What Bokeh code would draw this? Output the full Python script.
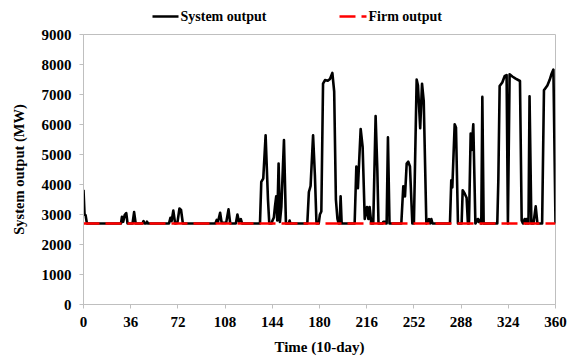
from bokeh.plotting import figure
from bokeh.models import FixedTicker, Range1d, Label
from bokeh.layouts import column
from bokeh.embed import file_html
from bokeh.resources import INLINE

# ---- data ----
time_points = [
    0, 0.8, 1.6, 2.6, 28.6, 29.3, 30.3, 31.4, 32.6, 33.6, 37.4, 38.6, 39.8,
    45.0, 45.8, 46.6, 47.8, 48.4, 49.2, 65.2, 66.3, 67.2, 68.5, 69.9, 71.6,
    73.2, 74.4, 75.8, 100.6, 101.6, 102.6, 104.2, 105.4, 108.8, 110.6, 111.9,
    116.2, 117.4, 118.6, 120.0, 121.0, 134.6, 135.6, 137.1, 138.9, 140.7,
    141.7, 143.4, 144.0, 145.2, 146.0, 147.0, 147.8, 148.8, 149.8, 150.9,
    152.9, 154.4, 156.6, 157.2, 157.8, 170.7, 171.9, 173.2, 175.1, 176.5,
    177.7, 179.4, 180.3, 181.4, 182.7, 184.2, 186.3, 188.0, 189.8, 191.2,
    192.5, 193.7, 194.6, 195.4, 196.1, 196.9, 206.8, 208.1, 209.3, 211.4,
    212.9, 214.5, 216.2, 217.3, 218.2, 219.5, 221.0, 222.8, 224.1, 225.0,
    228.0, 228.8, 230.0, 230.8, 231.2, 232.2, 233.4, 242.4, 243.9, 245.2,
    246.5, 247.7, 249.0, 250.8, 252.0, 254.1, 255.1, 256.8, 258.2, 259.5,
    261.5, 263.5, 264.4, 265.3, 266.2, 279.5, 280.5, 281.3, 283.1, 284.1,
    285.6, 288.4, 289.2, 290.7, 292.2, 293.2, 294.0, 295.3, 296.0, 297.3,
    298.9, 300.8, 301.6, 302.4, 303.4, 304.2, 305.2, 315.6, 316.4, 317.4,
    319.4, 321.2, 322.7, 323.7, 325.0, 327.1, 329.6, 332.9, 334.2, 335.2,
    336.5, 337.3, 338.0, 338.8, 339.4, 340.2, 341.6, 343.2, 344.9, 346.2,
    349.8, 351.2, 353.8, 355.5, 357.1, 358.4, 360.0,
]
system_output = [
    3820, 3000, 2980, 2700, 2700, 2920, 2760, 2980, 3050, 2700, 2700, 3080, 2700,
    2700, 2780, 2700, 2700, 2760, 2700, 2700, 2890, 2780, 3130, 2700, 2720,
    3200, 3150, 2700, 2700, 2820, 2760, 3060, 2720, 2720, 3170, 2700,
    2700, 3000, 2760, 2850, 2700, 2700, 4090, 4200, 5640, 3500,
    2700, 2700, 2780, 2900, 3250, 3610, 2800, 4700, 2750, 3250,
    5480, 2700, 2700, 2800, 2700, 2700, 3750, 3950, 5640, 4300,
    2700, 2700, 3000, 3100, 7360, 7480, 7460, 7520, 7720, 7100,
    3500, 2850, 2700, 2700, 3610, 2700, 2700, 4600, 3880, 5850,
    5250, 2850, 3250, 2850, 3250, 2700, 2700, 6280, 4500, 2700,
    2700, 2760, 2760, 2700, 2700, 5570, 2700, 2700, 3940, 3600,
    4700, 4760, 4600, 2700, 2700, 7500, 7300, 5880, 7360, 6780,
    2700, 2850, 2700, 2850, 2700, 2700, 4140, 3900, 6010, 5900,
    2700, 2700, 3810, 3700, 3560, 2700, 2700, 5700, 5150, 6010,
    2700, 2850, 2750, 2820, 2700, 6920, 2700, 2700, 4150, 7280,
    7400, 7610, 7650, 2700, 7670, 7600, 7530, 7450, 2800, 2700,
    2850, 2700, 2850, 2700, 2700, 6940, 2700, 2700, 3270, 2700,
    2700, 7140, 7300, 7480, 7700, 7830, 2700,
]
firm_time = [0, 360]
firm_output = [2700, 2700]
series_names = ["System output", "Firm output"]
x_ticks = [0, 36, 72, 108, 144, 180, 216, 252, 288, 324, 360]
y_ticks = [0, 1000, 2000, 3000, 4000, 5000, 6000, 7000, 8000, 9000]

FONT = "Liberation Serif"
GRAY = "#bfbfbf"
SYS_COLOR = "black"
FIRM_COLOR = "#ff0000"
FIRM_DASH = "16 6"
LW = 2.6
LEFT, RIGHT = 83, 12

# ---- legend strip (x in canvas pixels) ----
leg = figure(width=567, height=24, output_backend="svg", toolbar_location=None,
             x_range=Range1d(LEFT, 567 - RIGHT), y_range=Range1d(0, 24),
             x_axis_type=None, y_axis_type=None,
             min_border_left=LEFT, min_border_right=RIGHT,
             min_border_top=0, min_border_bottom=0)
leg.outline_line_color = None
leg.xgrid.visible = False
leg.ygrid.visible = False
leg.background_fill_color = "white"
leg.border_fill_color = "white"
leg.line([152, 178], [8, 8], line_color=SYS_COLOR, line_width=LW)
leg.line([339, 366], [8, 8], line_color=FIRM_COLOR, line_width=LW,
         line_dash=FIRM_DASH)
for lx, name in zip([180, 368], series_names):
    leg.add_layout(Label(x=lx, y=8, text=name, text_baseline="middle",
                         text_align="left", text_font=FONT,
                         text_font_style="bold", text_font_size="14px",
                         text_color="black"))

# ---- main chart ----
p = figure(width=567, height=334, output_backend="svg", toolbar_location=None,
           x_range=Range1d(0, 360), y_range=Range1d(0, 9000),
           min_border_left=LEFT, min_border_right=RIGHT, min_border_top=10,
           min_border_bottom=54)
p.background_fill_color = "white"
p.border_fill_color = "white"
p.outline_line_color = GRAY
p.outline_line_width = 1
p.xgrid.visible = False
p.ygrid.visible = False

p.line(time_points, system_output, line_color=SYS_COLOR, line_width=LW,
       line_join="round")
p.line(firm_time, firm_output, line_color=FIRM_COLOR, line_width=LW,
       line_dash=FIRM_DASH)

p.xaxis.ticker = FixedTicker(ticks=x_ticks)
p.yaxis.ticker = FixedTicker(ticks=y_ticks)
for ax in (p.xaxis[0], p.yaxis[0]):
    ax.axis_line_color = GRAY
    ax.major_tick_line_color = GRAY
    ax.minor_tick_line_color = None
    ax.major_tick_out = 4
    ax.major_tick_in = 0
    ax.major_label_text_font = FONT
    ax.major_label_text_font_style = "bold"
    ax.major_label_text_font_size = "15px"
    ax.major_label_text_color = "black"
    ax.axis_label_text_font = FONT
    ax.axis_label_text_font_style = "bold"
    ax.axis_label_text_color = "black"
    ax.major_label_standoff = 8
p.xaxis.axis_label = "Time (10-day)"
p.yaxis.axis_label = "System output (MW)"
p.xaxis.axis_label_text_font_size = "15px"
p.yaxis.axis_label_text_font_size = "14.5px"
p.xaxis.axis_label_standoff = 9
p.yaxis.axis_label_standoff = 12

layout = column(leg, p, spacing=0)
open("out.html", "w").write(file_html(layout, INLINE))
